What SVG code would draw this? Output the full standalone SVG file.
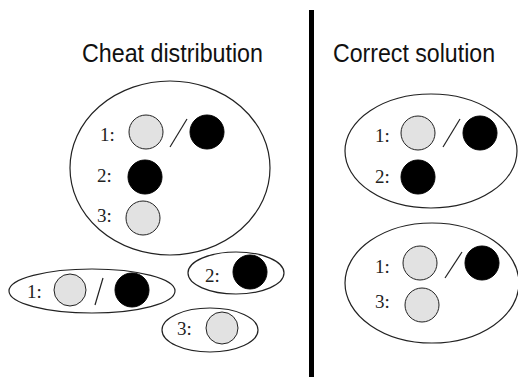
<svg xmlns="http://www.w3.org/2000/svg" width="518" height="377" viewBox="0 0 518 377">
<style>
.title{font-family:"Liberation Sans",Arial,sans-serif;font-size:25px;fill:#111}
.lbl{font-family:"Liberation Serif","Times New Roman",serif;font-size:19px;fill:#222}
.grp{fill:none;stroke:#222;stroke-width:1.2}
.lt{fill:#e2e2e2;stroke:#222;stroke-width:1}
.dk{fill:#000;stroke:#000;stroke-width:1}
.sl{stroke:#222;stroke-width:1.2}
</style>
<rect width="518" height="377" fill="#fff"/>
<text class="title" x="82" y="62" textLength="181" lengthAdjust="spacingAndGlyphs">Cheat distribution</text>
<text class="title" x="333" y="62" textLength="162" lengthAdjust="spacingAndGlyphs">Correct solution</text>
<rect x="309" y="10" width="5" height="367" fill="#000"/>

<g id="cheat-big">
<ellipse class="grp" cx="170" cy="168" rx="100" ry="87"/>
<text class="lbl" x="100" y="141">1:</text>
<circle class="lt" cx="146" cy="132" r="17"/>
<line class="sl" x1="170" y1="147" x2="187" y2="119"/>
<circle class="dk" cx="207" cy="132" r="17"/>
<text class="lbl" x="97" y="182">2:</text>
<circle class="dk" cx="145" cy="177" r="17"/>
<text class="lbl" x="97" y="222">3:</text>
<circle class="lt" cx="143" cy="218" r="17"/>
</g>

<g id="cheat-1">
<ellipse class="grp" cx="92" cy="291" rx="83" ry="22"/>
<text class="lbl" x="27" y="298">1:</text>
<circle class="lt" cx="70" cy="290" r="16"/>
<line class="sl" x1="95" y1="305" x2="103" y2="278"/>
<circle class="dk" cx="132" cy="290" r="17"/>
</g>

<g id="cheat-2">
<ellipse class="grp" cx="236" cy="273" rx="48" ry="21"/>
<text class="lbl" x="205" y="282">2:</text>
<circle class="dk" cx="250" cy="272" r="17"/>
</g>

<g id="cheat-3">
<ellipse class="grp" cx="210" cy="330" rx="48" ry="22"/>
<text class="lbl" x="177" y="335">3:</text>
<circle class="lt" cx="222" cy="328" r="16"/>
</g>

<g id="correct-top">
<ellipse class="grp" cx="431" cy="151" rx="86" ry="57"/>
<text class="lbl" x="375" y="142">1:</text>
<circle class="lt" cx="418" cy="133" r="17"/>
<line class="sl" x1="443" y1="147" x2="460" y2="119"/>
<circle class="dk" cx="480" cy="133" r="17"/>
<text class="lbl" x="375" y="183">2:</text>
<circle class="dk" cx="418" cy="177" r="17"/>
</g>

<g id="correct-bottom">
<ellipse class="grp" cx="432" cy="283" rx="87" ry="60"/>
<text class="lbl" x="375" y="273">1:</text>
<circle class="lt" cx="420" cy="263" r="17"/>
<line class="sl" x1="445" y1="278" x2="462" y2="252"/>
<circle class="dk" cx="482" cy="263" r="17"/>
<text class="lbl" x="375" y="308">3:</text>
<circle class="lt" cx="422" cy="305" r="17"/>
</g>

<g id="connectors"></g>
</svg>
